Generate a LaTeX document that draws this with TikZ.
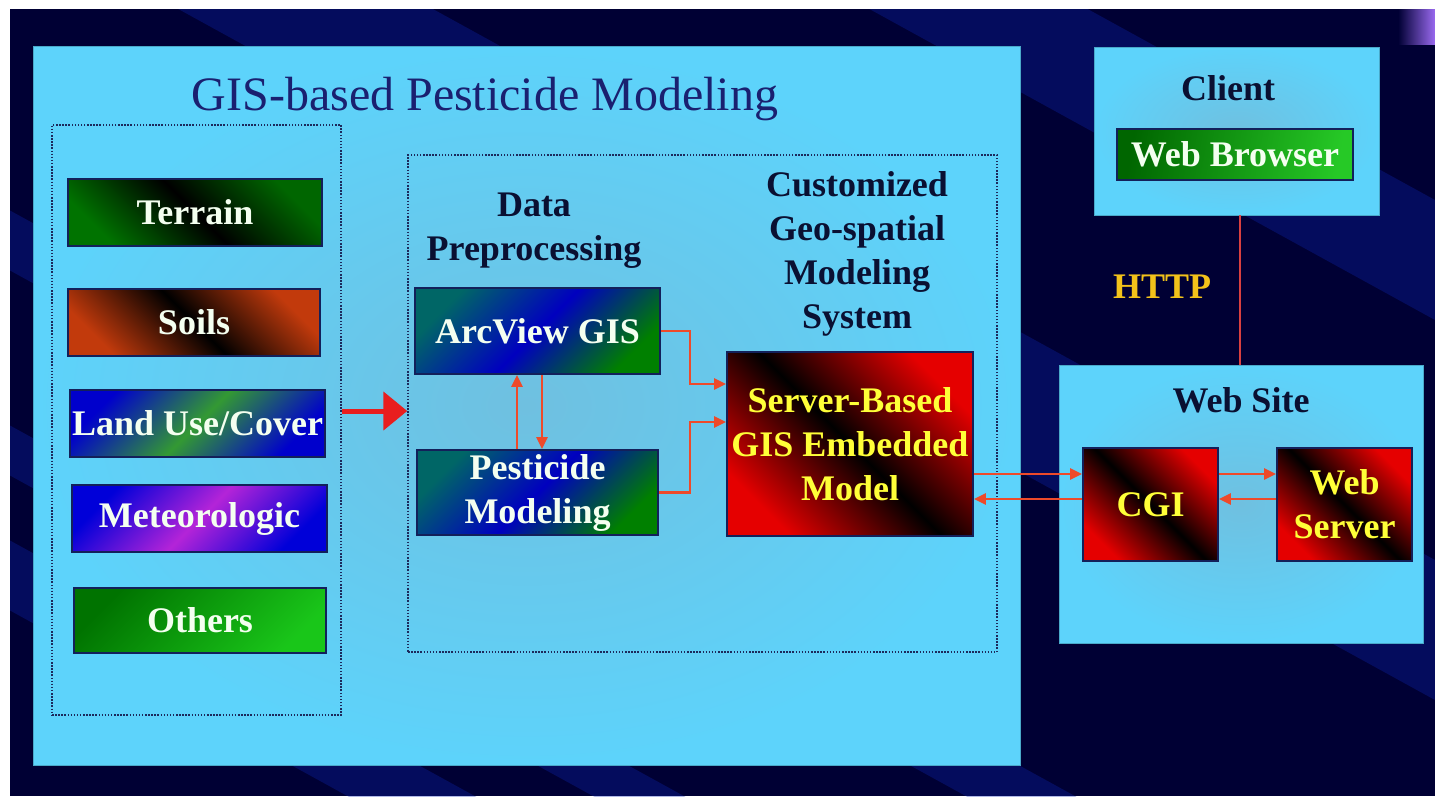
\documentclass[tikz,border=0pt]{standalone}
\usepackage{fontspec}
\setmainfont{Liberation Serif}
\usetikzlibrary{arrows.meta}

\definecolor{navybg}{HTML}{000034}
\definecolor{stripe}{HTML}{0E26B4}
\definecolor{blob}{HTML}{9A6AF0}
\definecolor{panelsky}{HTML}{5DD3FB}
\definecolor{panelmid}{HTML}{6FC0E0}
\definecolor{boxedge}{HTML}{13205A}
\definecolor{dotline}{HTML}{1C2A5C}
\definecolor{boxtext}{HTML}{F4FFF0}
\definecolor{hottext}{HTML}{FFFF38}
\definecolor{labeltext}{HTML}{0A1032}
\definecolor{titletext}{HTML}{1A2070}
\definecolor{httptext}{HTML}{F2C21A}
\definecolor{flowred}{HTML}{EE4A2A}
\definecolor{feedred}{HTML}{E81E1E}
\definecolor{linkred}{HTML}{D84040}
\definecolor{soilred}{HTML}{C23A0C}
\definecolor{meteomag}{HTML}{B424D8}

% diagonal colour bands for the boxes
\pgfdeclarehorizontalshading{terrainband}{100bp}{color(0bp)=(green!45!black); color(25bp)=(green!45!black);
  color(50bp)=(black); color(75bp)=(green!40!black); color(100bp)=(green!40!black)}
\pgfdeclarehorizontalshading{soilband}{100bp}{color(0bp)=(soilred); color(25bp)=(soilred);
  color(50bp)=(black); color(75bp)=(soilred); color(100bp)=(soilred)}
\pgfdeclarehorizontalshading{landband}{100bp}{color(0bp)=(blue!80!black); color(25bp)=(blue!80!black);
  color(50bp)=(green!50!black!80!white); color(75bp)=(blue!80!black); color(100bp)=(blue!80!black)}
\pgfdeclarehorizontalshading{meteoband}{100bp}{color(0bp)=(blue!85!black); color(25bp)=(blue!85!black);
  color(50bp)=(meteomag); color(75bp)=(blue!85!black); color(100bp)=(blue!85!black)}
\pgfdeclarehorizontalshading{othersband}{100bp}{color(0bp)=(green!45!black); color(25bp)=(green!45!black);
  color(75bp)=(green!75!black!90!white); color(100bp)=(green!75!black!90!white)}
\pgfdeclarehorizontalshading{databand}{100bp}{color(0bp)=(teal!80!black); color(25bp)=(teal!80!black);
  color(50bp)=(blue!75!black); color(75bp)=(green!50!black); color(100bp)=(green!50!black)}
\pgfdeclarehorizontalshading{redband}{100bp}{color(0bp)=(red!90!black); color(25bp)=(red!90!black);
  color(50bp)=(black); color(75bp)=(red!90!black); color(100bp)=(red!90!black)}

\begin{document}
\begin{tikzpicture}[x=1pt,y=-1pt]
    \tikzstyle{panel}=[inner color=panelmid,outer color=panelsky,draw=panelsky!80!black,line width=0.6pt,inner sep=0pt]
    \tikzstyle{group}=[draw=dotline,line width=1.5pt,dash pattern=on 1.5pt off 1.6pt,inner sep=0pt]
    \tikzstyle{box}=[draw=boxedge,line width=1.8pt,inner sep=0pt,align=center,shade,
        font=\bfseries\fontsize{36}{44}\selectfont,text=boxtext]
    \tikzstyle{hotbox}=[box,shading=redband,shading angle=45,text=hottext]
    \tikzstyle{label}=[inner sep=0pt,align=center,font=\bfseries\fontsize{36}{44}\selectfont,text=labeltext]
    \tikzstyle{arrow}=[draw=flowred,line width=2.6pt,-{Triangle[length=12pt,width=11pt]}]
    \tikzstyle{feed}=[draw=feedred,line width=5pt,-{Triangle[length=24pt,width=38pt]}]
    \tikzstyle{link}=[draw=linkred,line width=2pt]
    \tikzstyle{band}=[stripe,opacity=0.32]

    \useasboundingbox (0,0) rectangle (1435,796);

    % slide background with the blue stripes
    \fill[white] (0,0) rectangle (1435,796);
    \fill[navybg] (10,9) rectangle (1435,796);
    \begin{scope}
        \clip (10,9) rectangle (1435,796);
        \fill[band] (0,205) -- (1435,994) -- (1435,1054) -- (0,265) -- cycle;
        \fill[band] (0,420) -- (1435,1209) -- (1435,1259) -- (0,470) -- cycle;
        \fill[band] (0,535) -- (1435,1324) -- (1435,1394) -- (0,605) -- cycle;
        \fill[band] (0,-589) -- (1435,200) -- (1435,320) -- (0,-469) -- cycle;
        \fill[band] (0,-229) -- (1435,560) -- (1435,700) -- (0,-89) -- cycle;
        \shade[left color=navybg,right color=blob] (1398,9) rectangle (1435,44);
    \end{scope}

    % panels
    \node[panel,minimum width=987pt,minimum height=719pt] (gis) at (526.5,405.5) {};
    \node[panel,minimum width=285pt,minimum height=168pt] (client) at (1236.5,131) {};
    \node[panel,minimum width=364pt,minimum height=278pt] (website) at (1241,504) {};

    \node[group,minimum width=289pt,minimum height=590pt] (inputs) at (196.5,420) {};
    \node[group,minimum width=589pt,minimum height=497pt] (modeling) at (702.5,403.5) {};

    % headings
    \node[anchor=base,inner sep=0pt,text=titletext,font=\fontsize{48}{56}\selectfont] (title) at (485,110) {GIS-based Pesticide Modeling};
    \node[label,anchor=north] (prep) at (534,193) {Data\\Preprocessing};
    \node[label,anchor=north] (custom) at (857,171) {Customized\\Geo-spatial\\Modeling\\System};
    \node[label,anchor=base] (clientlbl) at (1228,100) {Client};
    \node[label,anchor=base] (sitelbl) at (1241,412) {Web Site};
    \node[label,anchor=base,text=httptext] (http) at (1162,298) {HTTP};

    % input layers
    \node[box,shading=terrainband,shading angle=45,minimum width=254pt,minimum height=67pt] (terrain) at (195,212.5) {Terrain};
    \node[box,shading=soilband,shading angle=45,minimum width=252pt,minimum height=67pt] (soils) at (194,322.5) {Soils};
    \node[box,shading=landband,shading angle=-45,minimum width=255pt,minimum height=67pt] (landuse) at (197.5,423.5) {Land Use/Cover};
    \node[box,shading=meteoband,shading angle=-45,minimum width=255pt,minimum height=67pt] (meteo) at (199.5,518.5) {Meteorologic};
    \node[box,shading=othersband,shading angle=-45,minimum width=252pt,minimum height=65pt] (others) at (200,620.5) {Others};

    % processing
    \node[box,shading=databand,shading angle=-45,minimum width=245pt,minimum height=86pt] (arcview) at (537.5,331) {ArcView GIS};
    \node[box,shading=databand,shading angle=-45,minimum width=241pt,minimum height=85pt] (pesticide) at (537.5,492.5) {Pesticide\\Modeling};
    \node[hotbox,minimum width=246pt,minimum height=184pt] (server) at (850,444) {Server-Based\\GIS Embedded\\Model};

    % web side
    \node[box,left color=green!40!black,right color=green!75!black!85!white,shading angle=80,
        minimum width=236pt,minimum height=51pt] (browser) at (1235,154.5) {Web Browser};
    \node[hotbox,minimum width=135pt,minimum height=113pt] (cgi) at (1150.5,504.5) {CGI};
    \node[hotbox,minimum width=135pt,minimum height=113pt] (webserver) at (1344.5,504.5) {Web\\Server};

    % connectors
    \coordinate (feedy) at (0,411);
    \coordinate (upx) at (517,0);
    \coordinate (downx) at (542,0);
    \coordinate (bend1) at (690,384);
    \coordinate (bend2) at (690,422);
    \coordinate (hi) at (0,474);
    \coordinate (lo) at (0,499);
    \coordinate (httpx) at (1240,0);

    \path[feed] (inputs.east |- feedy) -- (modeling.west |- feedy);
    \path[arrow] (pesticide.north -| upx) -- (arcview.south -| upx);
    \path[arrow] (arcview.south -| downx) -- (pesticide.north -| downx);
    \path[arrow] (arcview.east) -| (bend1) -- (bend1 -| server.west);
    \path[arrow] (pesticide.east) -| (bend2) -- (bend2 -| server.west);
    \path[arrow] (server.east |- hi) -- (cgi.west |- hi);
    \path[arrow] (cgi.west |- lo) -- (server.east |- lo);
    \path[arrow] (cgi.east |- hi) -- (webserver.west |- hi);
    \path[arrow] (webserver.west |- lo) -- (cgi.east |- lo);
    \path[link] (client.south -| httpx) -- (website.north -| httpx);
\end{tikzpicture}
\end{document}
